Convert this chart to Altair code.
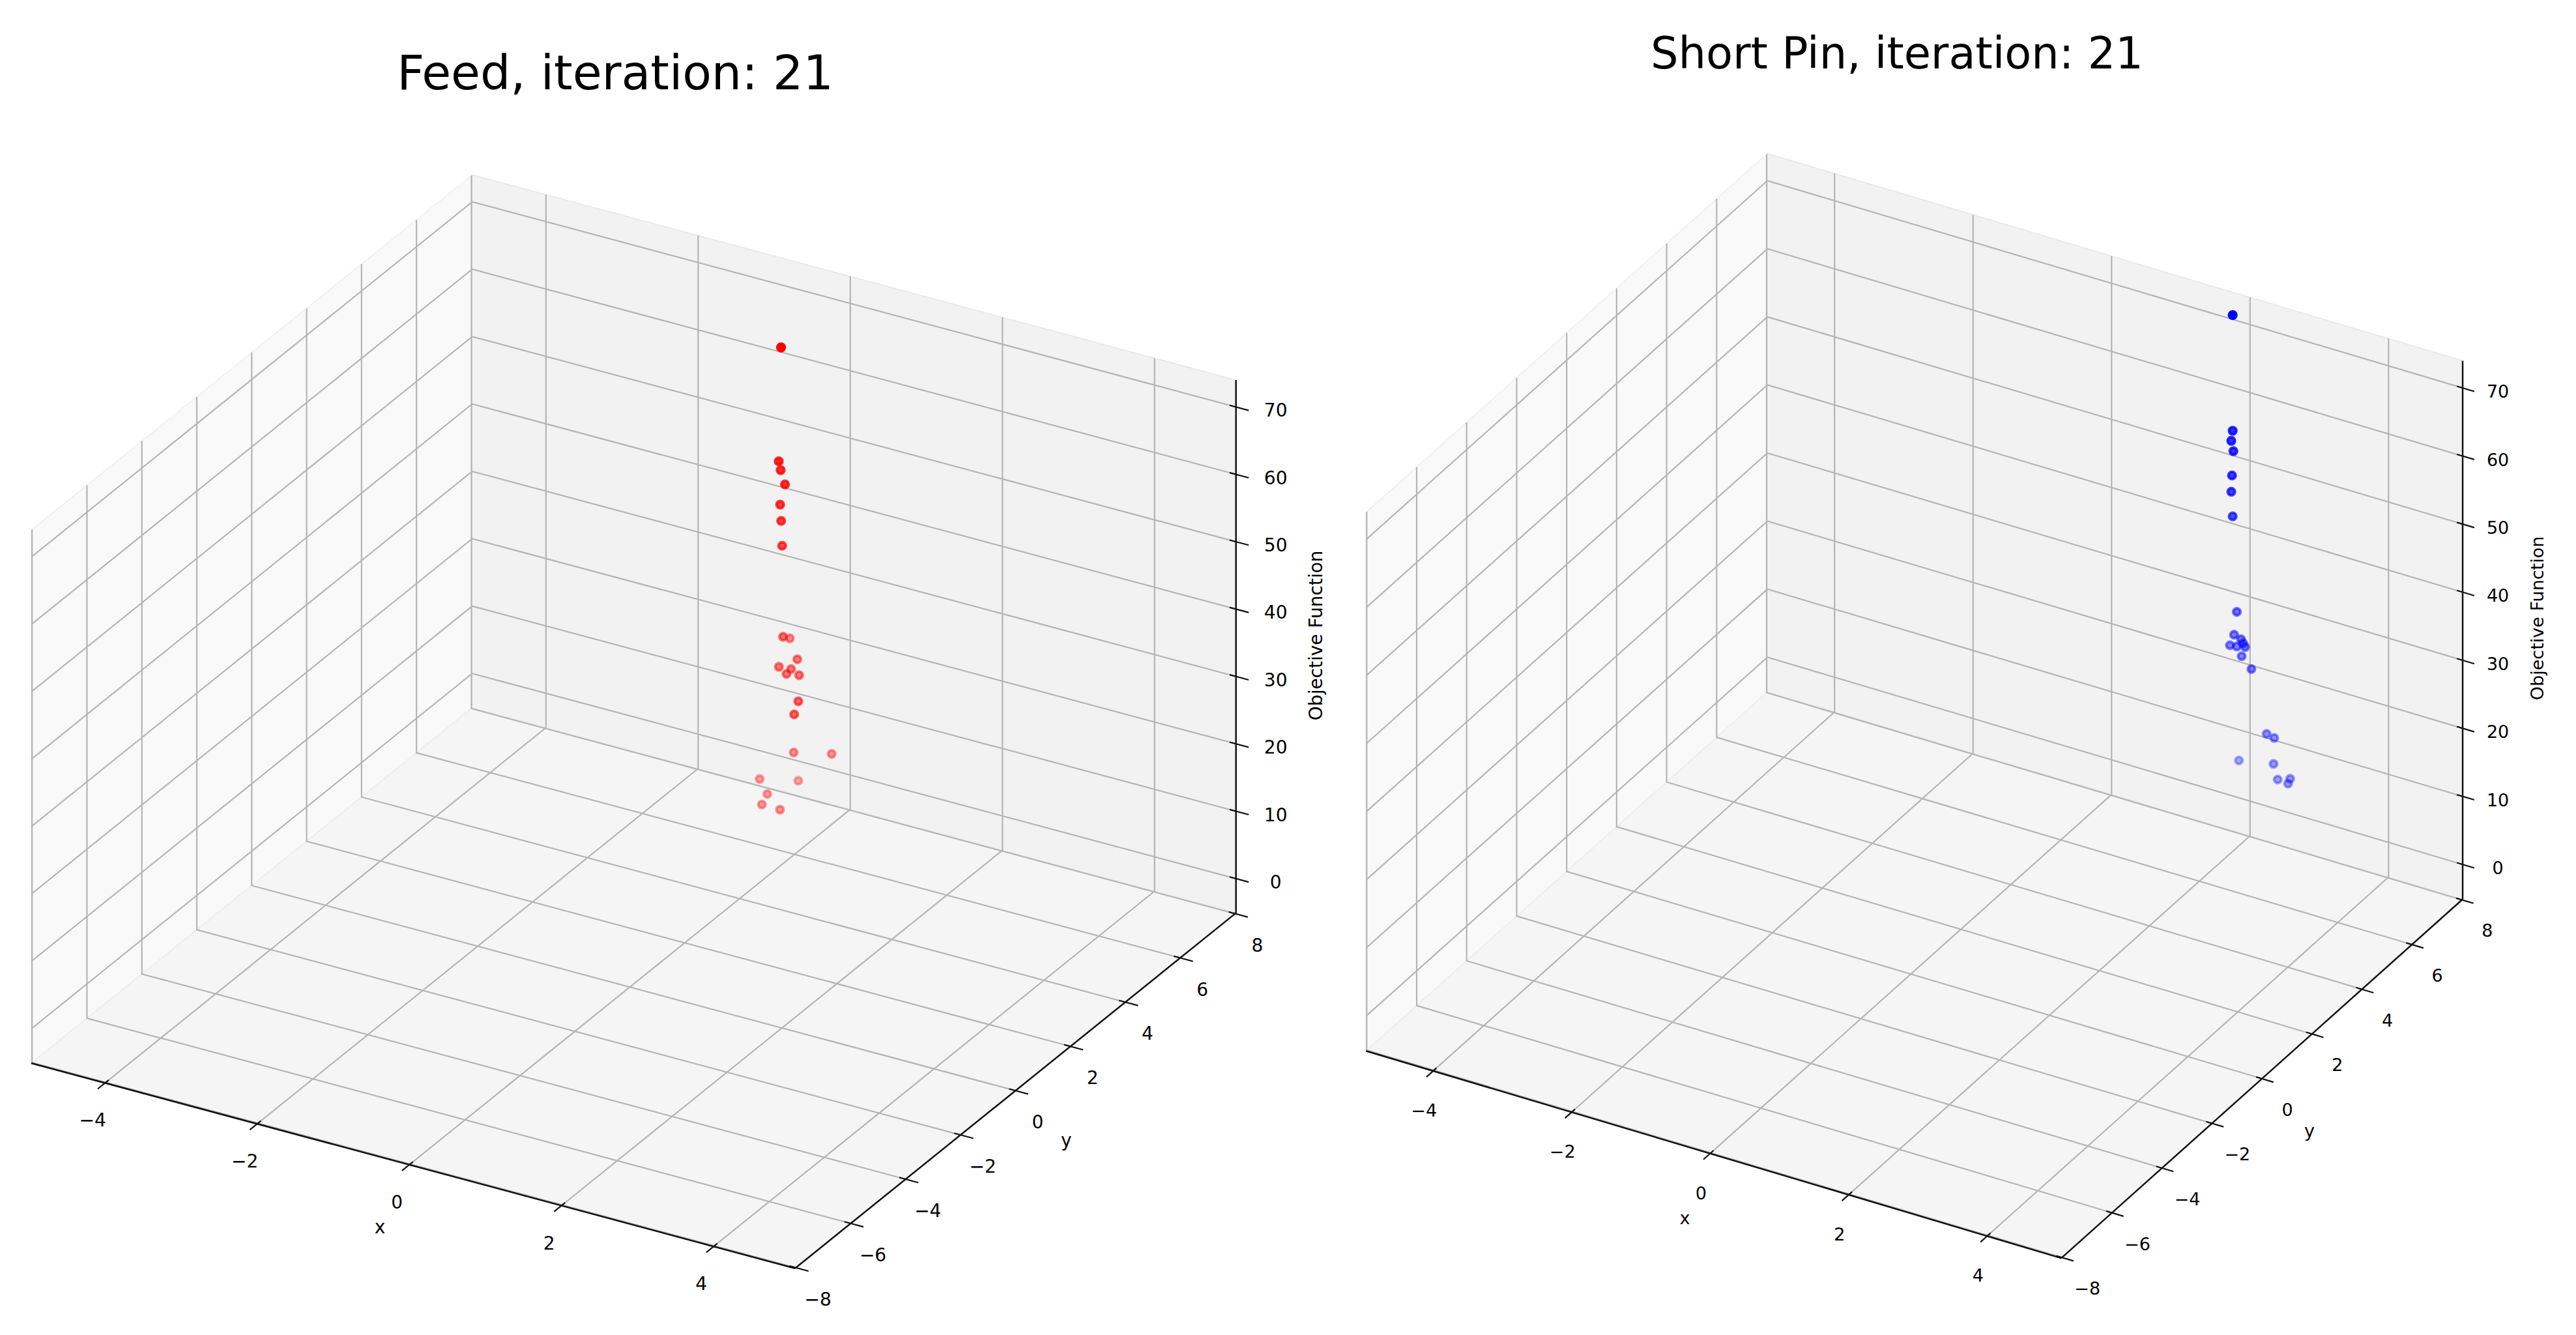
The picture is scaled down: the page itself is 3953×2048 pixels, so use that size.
import numpy as np
import pandas as pd
import altair as alt

# ------------------------------------------------------------------ data
TITLES = ["Feed, iteration: 21", "Short Pin, iteration: 21"]
AXIS_TITLES = ["x", "y", "Objective Function"]

# objective value of each evaluated design (shared by both panels)
OBJECTIVE = [70.77, 53.78, 52.24, 50.81, 47.18, 44.76, 41.21, 27.35, 23.88, 23.52, 23.02,
             22.56, 22.27, 22.15, 21.05, 19.59, 10.73, 10.46, 6.62, 5.62, 5.17, 4.51, 4.36]
# feed position of each design
FEED_X = [-0.08, -0.11, -0.11, -0.01, -0.11, -0.10, -0.08, -0.10, -0.30, 0.00, -0.13,
          -0.02, -0.03, 0.10, 0.32, 0.32, 0.05, 0.42, -0.30, 0.02, -0.16, -0.14, 0.09]
FEED_Y = [5.73, 5.73, 5.80, 5.68, 5.78, 5.79, 5.77, 5.86, 6.66, 6.10, 5.79,
          5.93, 5.79, 5.89, 5.25, 5.10, 5.83, 6.19, 5.56, 6.08, 5.45, 5.20, 5.22]
# short pin position of each design
PIN_X = [1.76, 1.76, 1.74, 1.77, 1.75, 1.74, 1.76, 1.82, 1.78, 1.88, 1.91,
         1.94, 1.82, 1.72, 1.89, 2.03, 2.25, 2.36, 2.35, 1.85, 2.59, 2.41, 2.56]
PIN_Y = [8.0, 8.0, 8.0, 8.0, 8.0, 8.0, 8.0, 8.0, 8.0, 8.0, 8.0,
         8.0, 8.0, 8.0, 8.0, 8.0, 8.0, 8.0, 8.0, 8.0, 8.0, 8.0, 8.0]

X_TICKS = [-4, -2, 0, 2, 4]
Y_TICKS = [-8, -6, -4, -2, 0, 2, 4, 6, 8]
Z_TICKS = [0, 10, 20, 30, 40, 50, 60, 70]

X_LIM = (-4.97, 5.07)
Y_LIM = (-8.03, 8.03)
Z_LIM = (-5.1, 74.0)

# ------------------------------------------------------------------ 3-D view (orthographic, elev 30, azim -60)
ELEV, AZIM = 30.0, -60.0
BOX_ASPECT = np.array([4.0, 4.0, 3.0])
el, az = np.radians(ELEV), np.radians(AZIM)
W = np.array([np.cos(el) * np.cos(az), np.cos(el) * np.sin(az), np.sin(el)])
U = np.cross([0.0, 0.0, 1.0], W)
U = U / np.linalg.norm(U)
V = np.cross(W, U)
HALF = 0.5 * BOX_ASPECT * 1.8294640721620434 / np.linalg.norm(BOX_ASPECT)
CU, CV, CW = U * HALF, V * HALF, W * HALF

LIMS = [X_LIM, Y_LIM, Z_LIM]
MID = [(a + b) / 2 for a, b in LIMS]
HR = [(b - a) / 2 for a, b in LIMS]


def _lin(c):
    n = [f"((datum.{k} - ({MID[i]:.6f}))/{HR[i]:.6f})" for i, k in enumerate("xyz")]
    return "(" + " + ".join(f"({c[i]:.6f})*{n[i]}" for i in range(3)) + ")"


PROJ = {"sx": _lin(CU), "sy": _lin(CV), "dep": _lin(CW)}

FONT = "DejaVu Sans"
TOP = 8.0
HEIGHT = 2020

PANELS = [
    dict(title=TITLES[0], px=FEED_X, py=FEED_Y, color="#ff0000",
         origin=8.0, width=1968, cx=972.3, cy=1107.0, kx=1184.2, ky=1101.5,
         title_xy=(944.0, 137.2), title_size=73, font=28,
         off=dict(xl=(-19, 59), yl=(34, 50), zl=(61, 7), xt=(-51, 96), yt=(78, 78), zt=(124, -17))),
    dict(title=TITLES[1], px=PIN_X, py=PIN_Y, color="#0000ff",
         origin=1976.0, width=1960, cx=2937.6, cy=1082.8, kx=1078.0, ky=1112.8,
         title_xy=(2911.0, 104.5), title_size=67, font=27,
         off=dict(xl=(-14, 62), yl=(39, 49), zl=(54, 7), xt=(-44, 99), yt=(73, 81), zt=(116, -18))),
]

x0, x1 = X_LIM
y0, y1 = Y_LIM
z0, z1 = Z_LIM

PANES = {
    "xpane": ([(x0, y0, z0), (x0, y1, z0), (x0, y1, z1), (x0, y0, z1), (x0, y0, z0)], "#f9f9f9", "#ededed"),
    "ypane": ([(x0, y1, z0), (x1, y1, z0), (x1, y1, z1), (x0, y1, z1), (x0, y1, z0)], "#f2f2f2", "#e6e6e6"),
    "zpane": ([(x0, y0, z0), (x1, y0, z0), (x1, y1, z0), (x0, y1, z0), (x0, y0, z0)], "#f5f5f5", "#ebebeb"),
}


def poly_df(lines):
    rows = []
    for gid, pts in lines:
        for k, (x, y, z) in enumerate(pts):
            rows.append(dict(gid=gid, k=k, x=x, y=y, z=z))
    return pd.DataFrame(rows)


grid_lines = []
for t in X_TICKS:
    grid_lines.append((f"gx{t}", [(t, y0, z0), (t, y1, z0), (t, y1, z1)]))
for t in Y_TICKS:
    grid_lines.append((f"gy{t}", [(x1, t, z0), (x0, t, z0), (x0, t, z1)]))
for t in Z_TICKS:
    grid_lines.append((f"gz{t}", [(x0, y0, t), (x0, y1, t), (x1, y1, t)]))
GRID_DF = poly_df(grid_lines)

AXIS_DF = poly_df([
    ("ax", [(x0, y0, z0), (x1, y0, z0)]),
    ("ay", [(x1, y0, z0), (x1, y1, z0)]),
    ("az", [(x1, y1, z0), (x1, y1, z1)]),
])

dX = (x1 - x0) / 12.0
dY = (y1 - y0) / 12.0
tick_lines = []
for t in X_TICKS:
    tick_lines.append((f"tx{t}", [(t, y0 + 0.1 * dY, z0), (t, y0 - 0.2 * dY, z0)]))
for t in Y_TICKS:
    tick_lines.append((f"ty{t}", [(x1 - 0.1 * dX, t, z0), (x1 + 0.2 * dX, t, z0)]))
for t in Z_TICKS:
    tick_lines.append((f"tz{t}", [(x1 - 0.1 * dX, y1, t), (x1 + 0.2 * dX, y1, t)]))
TICK_DF = poly_df(tick_lines)


def fmt(t):
    return str(t).replace("-", "\u2212")


LABELS = {
    "xl": pd.DataFrame(dict(x=X_TICKS, y=[y0] * len(X_TICKS), z=[z0] * len(X_TICKS),
                            t=[fmt(t) for t in X_TICKS])),
    "yl": pd.DataFrame(dict(x=[x1] * len(Y_TICKS), y=Y_TICKS, z=[z0] * len(Y_TICKS),
                            t=[fmt(t) for t in Y_TICKS])),
    "zl": pd.DataFrame(dict(x=[x1] * len(Z_TICKS), y=[y1] * len(Z_TICKS), z=Z_TICKS,
                            t=[fmt(t) for t in Z_TICKS])),
    "xt": pd.DataFrame(dict(x=[MID[0]], y=[y0], z=[z0], t=[AXIS_TITLES[0]])),
    "yt": pd.DataFrame(dict(x=[x1], y=[MID[1]], z=[z0], t=[AXIS_TITLES[1]])),
    "zt": pd.DataFrame(dict(x=[x1], y=[y1], z=[MID[2]], t=[AXIS_TITLES[2]])),
}


def make_panel(P):
    xs = alt.Scale(domain=[(P["origin"] - P["cx"]) / P["kx"],
                           (P["origin"] + P["width"] - P["cx"]) / P["kx"]], nice=False, zero=False)
    ys = alt.Scale(domain=[(P["cy"] - (TOP + HEIGHT)) / P["ky"], (P["cy"] - TOP) / P["ky"]],
                   nice=False, zero=False)
    X = alt.X("sx:Q", scale=xs, axis=None)
    Y = alt.Y("sy:Q", scale=ys, axis=None)
    layers = []

    # panes
    for name, (pts, fillc, edgec) in PANES.items():
        df = poly_df([(name, pts)])
        layers.append(
            alt.Chart(df).transform_calculate(**PROJ)
            .mark_line(fill=fillc, stroke=edgec, strokeWidth=1.5)
            .encode(x=X, y=Y, detail="gid:N", order="k:Q")
        )
    # grid
    layers.append(
        alt.Chart(GRID_DF).transform_calculate(**PROJ)
        .mark_line(color="#b5b5b5", strokeWidth=2.2)
        .encode(x=X, y=Y, detail="gid:N", order="k:Q")
    )
    # axis lines
    layers.append(
        alt.Chart(AXIS_DF).transform_calculate(**PROJ)
        .mark_line(color="#111111", strokeWidth=2.5)
        .encode(x=X, y=Y, detail="gid:N", order="k:Q")
    )
    # ticks
    layers.append(
        alt.Chart(TICK_DF).transform_calculate(**PROJ)
        .mark_line(color="#111111", strokeWidth=2.2)
        .encode(x=X, y=Y, detail="gid:N", order="k:Q")
    )
    # labels
    for key, df in LABELS.items():
        dx, dy = P["off"][key]
        ch = (alt.Chart(df).transform_calculate(**PROJ)
              .transform_calculate(lx=f"datum.sx + ({dx})/{P['kx']}",
                                   ly=f"datum.sy - ({dy})/{P['ky']}"))
        kw = dict(font=FONT, fontSize=P["font"], align="center", baseline="middle", color="#000000")
        if key == "zt":
            kw["angle"] = 270
        layers.append(
            ch.mark_text(**kw).encode(
                x=alt.X("lx:Q", scale=xs, axis=None),
                y=alt.Y("ly:Q", scale=ys, axis=None),
                text="t:N",
            )
        )
    # scatter with depth shading
    pts = pd.DataFrame(dict(x=P["px"], y=P["py"], z=OBJECTIVE))
    layers.append(
        alt.Chart(pts).transform_calculate(**PROJ)
        .transform_joinaggregate(dmin="min(dep)", dmax="max(dep)")
        .transform_calculate(alpha="0.3 + 0.7*(datum.dep - datum.dmin)/(datum.dmax - datum.dmin)")
        .mark_point(shape="circle", filled=True, fill=P["color"], stroke=P["color"],
                    strokeWidth=4.2, size=123, opacity=1)
        .encode(
            x=X, y=Y,
            fillOpacity=alt.FillOpacity("alpha:Q", scale=None),
            strokeOpacity=alt.StrokeOpacity("alpha:Q", scale=None),
            order=alt.Order("dep:Q", sort="ascending"),
        )
    )
    # title
    tx, ty = P["title_xy"]
    layers.append(
        alt.Chart(pd.DataFrame(dict(t=[P["title"]])))
        .mark_text(font=FONT, fontSize=P["title_size"], align="center", baseline="alphabetic",
                   color="#000000")
        .encode(x=alt.value(tx - P["origin"]), y=alt.value(ty - TOP), text="t:N")
    )
    return alt.layer(*layers).properties(width=P["width"], height=HEIGHT)


chart = alt.HConcatChart(
    hconcat=[make_panel(P) for P in PANELS],
    spacing=0,
    bounds="flush",
    padding=0,
    background="white",
).configure_view(stroke=None)

chart.save("out.html", embed_options={"renderer": "svg", "actions": False})
